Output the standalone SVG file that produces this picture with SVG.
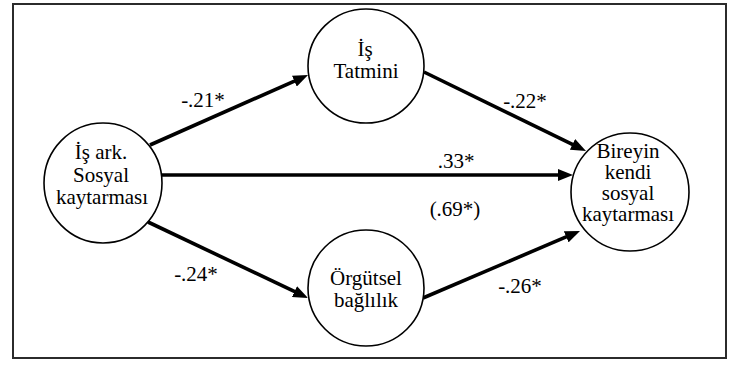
<svg xmlns="http://www.w3.org/2000/svg" width="733" height="368" viewBox="0 0 733 368">
<defs>
<style>
.frame{fill:#fff;stroke:#2b2b2b;stroke-width:2}
.node{fill:#fff;stroke:#000;stroke-width:1.6}
text{font-family:'Liberation Serif','DejaVu Serif',serif;font-size:21px;fill:#000;text-anchor:middle}
.edge{stroke:#000;stroke-width:3.6;fill:none;marker-end:url(#ah)}
</style>
<marker id="ah" markerUnits="userSpaceOnUse" markerWidth="15" markerHeight="12" refX="5" refY="6" orient="auto">
<path d="M0,0 L15,6 L0,12 z" fill="#000"/>
</marker>
</defs>
<rect class="frame" x="13" y="4" width="713" height="354"/>
<g id="connectors">
<line class="edge" x1="150" y1="145" x2="298.9" y2="79.1"/>
<line class="edge" x1="424" y1="72" x2="577" y2="146.6"/>
<line class="edge" x1="162" y1="175" x2="563" y2="175"/>
<line class="edge" x1="148" y1="222" x2="299" y2="293.7"/>
<line class="edge" x1="423" y1="298" x2="570.8" y2="234.9"/>
</g>
<g id="edge-labels">
<text x="203" y="107">-.21*</text>
<text x="525" y="108">-.22*</text>
<text x="456" y="168">.33*</text>
<text x="455" y="216">(.69*)</text>
<text x="196" y="281">-.24*</text>
<text x="520" y="293">-.26*</text>
</g>
<g id="node-isark">
<ellipse class="node" cx="103" cy="183" rx="59" ry="60"/>
<text x="101" y="159">İş ark.</text>
<text x="101" y="182">Sosyal</text>
<text x="102" y="204">kaytarması</text>
</g>
<g id="node-tatmin">
<ellipse class="node" cx="366" cy="66" rx="58" ry="57"/>
<text x="365" y="56">İş</text>
<text x="366" y="78">Tatmini</text>
</g>
<g id="node-bireyin">
<ellipse class="node" cx="630" cy="192" rx="59" ry="59"/>
<text x="628" y="158">Bireyin</text>
<text x="628" y="179">kendi</text>
<text x="628" y="200">sosyal</text>
<text x="628" y="221">kaytarması</text>
</g>
<g id="node-orgutsel">
<ellipse class="node" cx="366" cy="288" rx="58" ry="58"/>
<text x="366" y="285">Örgütsel</text>
<text x="366" y="307">bağlılık</text>
</g>
</svg>
